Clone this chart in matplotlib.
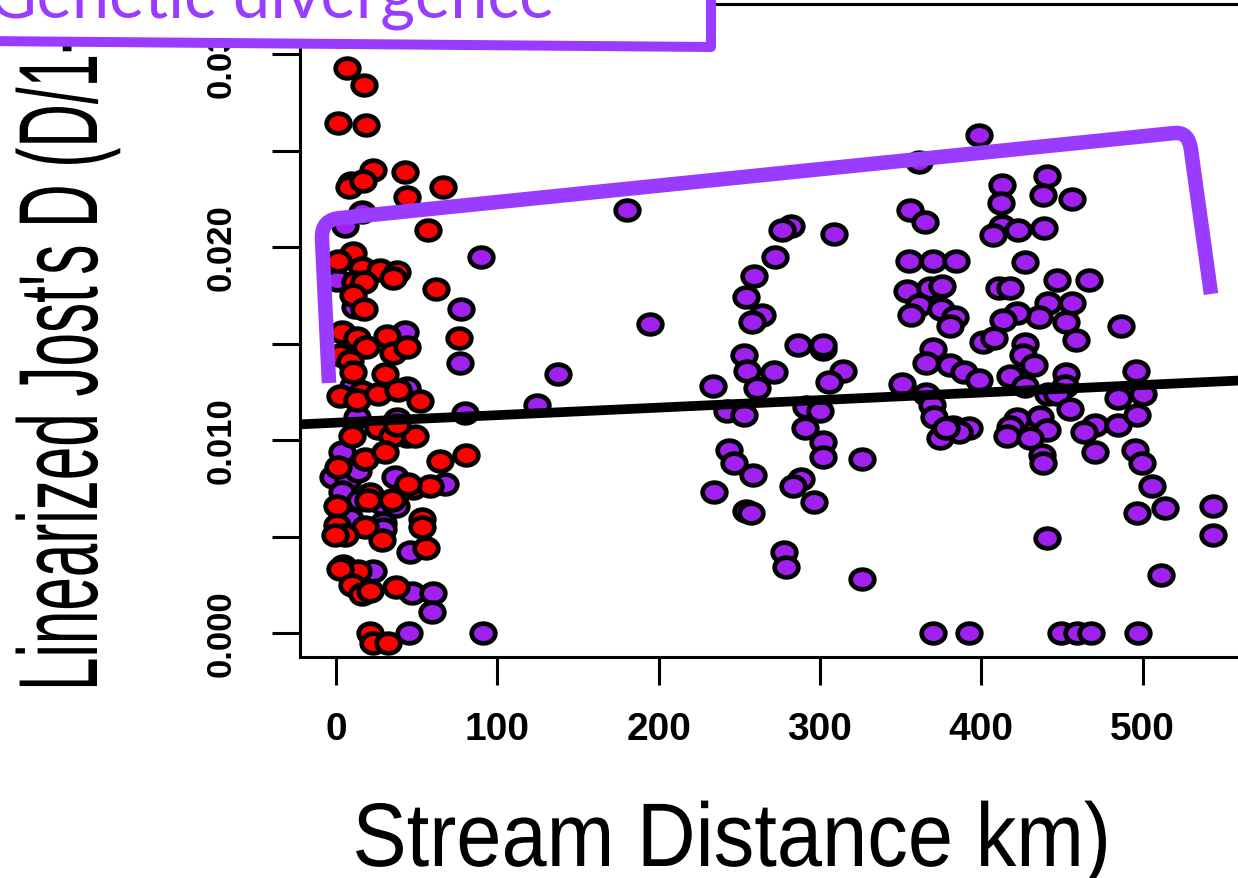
import matplotlib
matplotlib.use("Agg")
import numpy as np
import matplotlib.pyplot as plt
from matplotlib.path import Path
from matplotlib.markers import MarkerStyle
from matplotlib.patches import PathPatch, Polygon
from matplotlib.patheffects import AbstractPathEffect
from matplotlib.transforms import Affine2D
from matplotlib import font_manager as fm

# ---------------- data ----------------
red_km = [6.8, 17.4, 1.2, 18.6, 23.0, 9.3, 8.1, 16.8, 42.9, 44.1,
          66.5, 57.1, 10.6, 1.2, 16.1, 27.3, 37.9, 35.4, 11.8, 17.4,
          10.6, 17.4, 62.1, 76.4, 3.7, 13.0, 18.6, 31.7, 35.4, 44.1,
          2.5, 8.7, 10.6, 30.4, 16.1, 2.5, 13.0, 26.1, 38.5, 52.2,
          9.9, 26.1, 34.8, 49.1, 37.9, 18.0, 30.4, 64.6, 80.7, 1.2,
          47.8, 58.4, 44.7, 21.1, 19.9, 34.8, 0.6, 18.0, 53.4, 53.4,
          0.6, 5.6, -0.6, 28.6, 55.9, 4.3, 13.7, 2.5, 9.9, 16.1,
          21.1, 37.3, 21.1, 23.0, 32.3]
red_d = [0.0293, 0.0284, 0.0264, 0.0263, 0.0240, 0.0233, 0.0231, 0.0234, 0.0239, 0.0226,
         0.0231, 0.0209, 0.0197, 0.0193, 0.0189, 0.0188, 0.0187, 0.0184, 0.0182, 0.0182,
         0.0175, 0.0168, 0.0178, 0.0153, 0.0156, 0.0153, 0.0148, 0.0154, 0.0145, 0.0148,
         0.0144, 0.0141, 0.0135, 0.0134, 0.0125, 0.0123, 0.0121, 0.0124, 0.0126, 0.0120,
         0.0102, 0.0106, 0.0102, 0.0102, 0.0108, 0.0090, 0.0094, 0.0089, 0.0092, 0.0086,
         0.0075, 0.0076, 0.0077, 0.0072, 0.0069, 0.0069, 0.0066, 0.0055, 0.0059, 0.0055,
         0.0056, 0.0051, 0.0051, 0.0048, 0.0044, 0.0035, 0.0032, 0.0033, 0.0025, 0.0020,
         0.0022, 0.0024, 0.0000, -0.0005, -0.0005]

purple_km = [16.1, 5.6, 90.1, 0.6, 11.8, 77.6, 42.9, 77.0, 44.1, 10.6,
             13.0, 37.9, 80.1, 44.1, 3.7, -1.9, 7.5, 13.7, 36.6, 67.7,
             3.7, 14.9, 29.2, 37.3, 8.7, 29.2, 29.2, 46.0, 23.0, 47.2,
             60.2, 59.6, 45.3, 91.3, 180.1, 194.4, 137.3, 124.8,
             398.8, 361.5, 440.4, 413.0, 412.4, 438.5, 455.9, 355.9, 365.2, 282.0,
             276.4, 308.7, 413.0, 407.5, 423.0, 439.1, 272.0, 259.0, 355.3, 370.2,
             384.5, 427.3, 254.0, 264.0, 257.8, 447.2, 466.5, 354.0, 368.3, 375.8,
             411.2, 418.0, 361.5, 356.5, 375.2, 383.9, 380.7, 441.6, 455.9, 436.0,
             422.4, 413.7, 452.2, 458.4, 486.3, 401.2, 408.1, 427.3, 426.1, 432.9,
             286.3, 301.9, 301.9, 252.8, 254.7, 260.9, 271.4, 233.5, 314.3, 305.6,
             370.2, 365.8, 380.7, 389.4, 398.8, 350.9, 418.0, 427.3, 452.2, 451.6,
             441.6, 446.6, 495.7, 484.5, 500.0, 365.8, 242.2, 252.8, 291.3, 300.0,
             369.6, 370.8, 382.6, 392.5, 386.3, 374.5, 378.3, 422.4, 436.6, 418.0,
             440.4, 416.1, 430.4, 454.7, 470.2, 463.4, 484.5, 496.3, 437.9, 438.5,
             470.2, 495.0, 499.4, 290.7, 301.9, 301.9, 326.1, 243.5, 246.6, 258.4,
             234.2, 288.2, 283.2, 296.3, 254.0, 257.1, 505.6, 513.7, 496.3, 543.5,
             543.5, 440.4, 277.6, 278.9, 326.1, 511.2, 370.2, 392.5, 449.1, 459.0,
             467.7, 496.9]
purple_d = [0.0218, 0.0211, 0.0195, 0.0183, 0.0169, 0.0168, 0.0156, 0.0140, 0.0127, 0.0128,
            0.0112, 0.0111, 0.0114, 0.0102, 0.0094, 0.0081, 0.0080, 0.0084, 0.0081, 0.0077,
            0.0073, 0.0069, 0.0067, 0.0066, 0.0059, 0.0057, 0.0054, 0.0042, 0.0032, 0.0021,
            0.0021, 0.0011, 0.0000, 0.0000, 0.0219, 0.0160, 0.0134, 0.0118,
            0.0258, 0.0244, 0.0237, 0.0232, 0.0223, 0.0227, 0.0225, 0.0219, 0.0213, 0.0211,
            0.0209, 0.0207, 0.0211, 0.0206, 0.0209, 0.0210, 0.0195, 0.0185, 0.0193, 0.0193,
            0.0193, 0.0192, 0.0174, 0.0165, 0.0161, 0.0183, 0.0183, 0.0177, 0.0179, 0.0180,
            0.0179, 0.0179, 0.0170, 0.0165, 0.0168, 0.0164, 0.0159, 0.0171, 0.0171, 0.0164,
            0.0166, 0.0162, 0.0161, 0.0152, 0.0159, 0.0151, 0.0153, 0.0150, 0.0144, 0.0139,
            0.0149, 0.0147, 0.0149, 0.0144, 0.0136, 0.0127, 0.0135, 0.0128, 0.0136, 0.0130,
            0.0147, 0.0140, 0.0139, 0.0135, 0.0131, 0.0129, 0.0133, 0.0128, 0.0134, 0.0128,
            0.0124, 0.0124, 0.0136, 0.0122, 0.0124, 0.0124, 0.0115, 0.0113, 0.0117, 0.0115,
            0.0118, 0.0112, 0.0107, 0.0106, 0.0104, 0.0101, 0.0106, 0.0111, 0.0112, 0.0107,
            0.0105, 0.0102, 0.0101, 0.0116, 0.0108, 0.0104, 0.0108, 0.0113, 0.0092, 0.0088,
            0.0094, 0.0095, 0.0088, 0.0106, 0.0099, 0.0091, 0.0090, 0.0095, 0.0088, 0.0082,
            0.0073, 0.0080, 0.0076, 0.0068, 0.0063, 0.0062, 0.0076, 0.0065, 0.0062, 0.0066,
            0.0051, 0.0049, 0.0042, 0.0034, 0.0028, 0.0030, 0.0000, 0.0000, 0.0000, 0.0000,
            0.0000, 0.0000]

fit_intercept = 0.0109
fit_slope = 3.9e-6

x_ticks = [0, 100, 200, 300, 400, 500]
x_tick_labels = ["0", "100", "200", "300", "400", "500"]
y_ticks = [0.000, 0.005, 0.010, 0.015, 0.020, 0.025, 0.030]
y_tick_labels = ["0.000", "", "0.010", "", "0.020", "", "0.030"]

x_label = "Stream Distance km)"
y_label = "Linearized Jost's D (D/1-D)"
note_text = "Genetic divergence"

# ---------------- styling ----------------
W, H = 1238, 879
RED = "#FF0000"
PURPLE = "#A020F0"
ANN = "#9A3CFF"

names = {f.name for f in fm.fontManager.ttflist}
note_family = "Lato" if "Lato" in names else "DejaVu Sans"


class Squeeze(AbstractPathEffect):
    """Condense rendered glyphs about an anchor point (display pixels)."""
    def __init__(self, sx, sy, cx, cy):
        super().__init__()
        self._t = Affine2D().translate(-cx, -cy).scale(sx, sy).translate(cx, cy)

    def draw_path(self, renderer, gc, tpath, affine, rgbFace=None):
        renderer.draw_path(gc, tpath, affine + self._t, rgbFace)


fig = plt.figure(figsize=(W / 100, H / 100), dpi=100)
fig.patch.set_facecolor("white")


def fx(px):
    return px / W


def fy(py):
    return 1 - py / H


ax_left, ax_right, ax_top, ax_bottom = 300, 1262, 5, 658
ax = fig.add_axes([fx(ax_left), fy(ax_bottom), (ax_right - ax_left) / W, (ax_bottom - ax_top) / H])

# slightly wide ellipse marker, as in the picture
circ = Path.unit_circle()
marker = MarkerStyle(Path(circ.vertices * np.array([1.2, 1.0]), circ.codes))

ax.plot(purple_km, purple_d, ls="none", marker=marker, ms=17, mfc=PURPLE,
        mec="black", mew=3.4, zorder=3)
ax.plot(red_km, red_d, ls="none", marker=marker, ms=17, mfc=RED,
        mec="black", mew=3.4, zorder=4)

xmin, xmax = -22.4, 574.0
ymin, ymax = -0.00124, 0.03259
ax.set_xlim(xmin, xmax)
ax.set_ylim(ymin, ymax)

xs = np.array([xmin, xmax])
ax.plot(xs, fit_intercept + fit_slope * xs, color="black", lw=7, zorder=5,
        solid_capstyle="butt")

for s in ax.spines.values():
    s.set_linewidth(2.2)
    s.set_color("black")

ax.set_xticks(x_ticks)
ax.set_xticklabels(x_tick_labels)
ax.set_yticks(y_ticks)
ax.set_yticklabels(y_tick_labels)
ax.tick_params(axis="both", direction="out", length=20, width=2.2, color="black")
ax.tick_params(axis="x", pad=19, labelsize=28)
ax.tick_params(axis="y", pad=25, labelsize=25, labelrotation=90)
for lab in ax.get_xticklabels():
    lab.set_fontweight("bold")
    lab.set_family("Liberation Sans")
for lab in ax.get_yticklabels():
    lab.set_fontweight("bold")
    lab.set_family("Liberation Sans")
    lab.set_va("center")

# axis titles (condensed glyphs like the original device)
xl_x, xl_y = 732, 867
fig.text(fx(xl_x), fy(xl_y), x_label, ha="center", va="baseline",
         fontsize=65, family="Liberation Sans", color="black",
         path_effects=[Squeeze(0.90, 1.0, xl_x, H - xl_y)])
yl_x, yl_y = 97, 692
fig.text(fx(yl_x), fy(yl_y), y_label, rotation=90, rotation_mode="anchor",
         ha="left", va="baseline", fontsize=81, family="Liberation Sans",
         color="black",
         path_effects=[Squeeze(1.0, 0.535, yl_x, H - yl_y)])

# purple bracket annotation (figure pixel coordinates)
verts = [(fx(329), fy(384)), (fx(322), fy(240)),
         (fx(321), fy(220)), (fx(341), fy(219)),
         (fx(1175), fy(134)),
         (fx(1189), fy(133)), (fx(1191), fy(151)),
         (fx(1211), fy(295))]
codes = [Path.MOVETO, Path.LINETO, Path.CURVE3, Path.CURVE3, Path.LINETO,
         Path.CURVE3, Path.CURVE3, Path.LINETO]
bracket = PathPatch(Path(verts, codes), transform=fig.transFigure, fill=False,
                    lw=10.5, edgecolor=ANN, capstyle="butt", joinstyle="round",
                    zorder=8)
fig.add_artist(bracket)

# purple text box at top-left
box = Polygon([(fx(-20), fy(-20)), (fx(711), fy(-20)), (fx(711), fy(48)),
               (fx(-20), fy(42))], closed=True, transform=fig.transFigure,
              facecolor="white", edgecolor=ANN, lw=7.2, joinstyle="round",
              zorder=9)
fig.add_artist(box)
fig.text(fx(-12), fy(18), note_text, ha="left", va="baseline", fontsize=48,
         family=note_family, color=ANN, zorder=10)

fig.savefig("out.png", dpi=100, facecolor="white")
